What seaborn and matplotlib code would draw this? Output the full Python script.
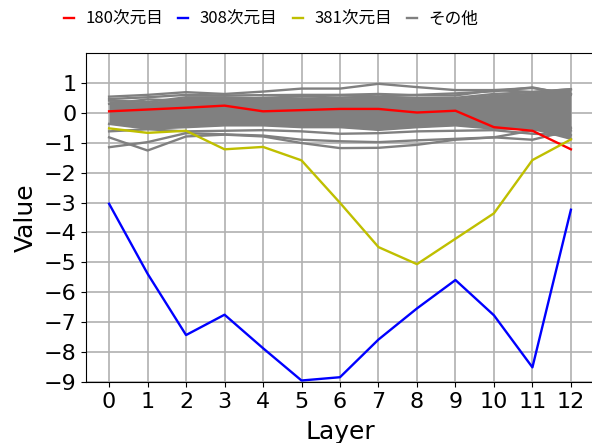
import numpy as np
import pandas as pd
import seaborn as sns
import matplotlib.pyplot as plt
from matplotlib.lines import Line2D

# 値は図から読み取り
layers = list(range(13))
dim_180 = [0.05, 0.11, 0.17, 0.24, 0.05, 0.09, 0.13, 0.13, 0.01, 0.07, -0.48, -0.60, -1.22]
dim_308 = [-3.04, -5.38, -7.43, -6.75, -7.87, -8.95, -8.84, -7.58, -6.54, -5.59, -6.77, -8.51, -3.24]
dim_381 = [-0.52, -0.67, -0.60, -1.22, -1.14, -1.59, -3.01, -4.49, -5.06, -4.21, -3.36, -1.58, -0.89]

# その他の次元：密集帯の上端と下端
band_top = [0.41, 0.36, 0.52, 0.52, 0.48, 0.48, 0.50, 0.53, 0.50, 0.50, 0.63, 0.69, 0.79]
band_bottom = [-0.37, -0.53, -0.48, -0.42, -0.42, -0.48, -0.48, -0.57, -0.48, -0.42, -0.53, -0.53, -0.87]
# その他の次元：帯から外れた線
other_u1 = [0.54, 0.60, 0.69, 0.63, 0.71, 0.81, 0.81, 0.97, 0.86, 0.76, 0.76, 0.83, 0.63]
other_u2 = [0.46, 0.52, 0.60, 0.58, 0.59, 0.60, 0.60, 0.63, 0.59, 0.58, 0.76, 0.70, 0.79]
other_u3 = [0.30, 0.45, 0.40, 0.45, 0.50, 0.55, 0.58, 0.55, 0.60, 0.65, 0.72, 0.85, 0.60]
other_l1 = [-1.15, -0.98, -0.68, -0.72, -0.76, -0.90, -0.95, -0.98, -0.92, -0.87, -0.82, -0.90, -0.59]
other_l2 = [-0.82, -1.26, -0.79, -0.73, -0.79, -1.01, -1.18, -1.17, -1.07, -0.90, -0.82, -0.59, -0.50]
other_l3 = [-0.62, -0.55, -0.62, -0.60, -0.58, -0.62, -0.70, -0.68, -0.62, -0.60, -0.58, -0.70, -0.75]

labels = ['180次元目', '308次元目', '381次元目', 'その他']
colors = ['r', 'b', 'y', 'gray']

plt.rcParams['font.family'] = ['DejaVu Sans', 'Noto Sans CJK JP']

# データ整形
main = pd.DataFrame({'Layer': layers, labels[0]: dim_180, labels[1]: dim_308, labels[2]: dim_381})
main = main.melt(id_vars='Layer', var_name='dim', value_name='Value')
others = [other_u1, other_u2, other_u3, other_l1, other_l2, other_l3, band_top, band_bottom]
other_df = pd.concat([pd.DataFrame({'Layer': layers, 'Value': v, 'unit': i}) for i, v in enumerate(others)],
                     ignore_index=True)

fig = plt.figure(figsize=(5.92, 4.43), dpi=100)
ax = fig.add_axes([86 / 592, 61 / 443, 508 / 592, 329 / 443])

ax.fill_between(layers, band_bottom, band_top, color='gray', lw=0, zorder=2)
sns.lineplot(data=other_df, x='Layer', y='Value', units='unit', estimator=None,
             color='gray', lw=1.7, legend=False, ax=ax, zorder=2)
sns.lineplot(data=main, x='Layer', y='Value', hue='dim', palette=colors[:3],
             lw=1.7, legend=False, ax=ax, zorder=3)

ax.set_xlim(-0.6, 12.6)
ax.set_ylim(-9, 2)
ax.set_xticks(layers)
ax.set_yticks(range(-9, 2))
ax.tick_params(labelsize=16)
ax.set_xlabel('Layer', fontsize=18, labelpad=6)
ax.set_ylabel('Value', fontsize=18)
ax.grid(True, color='#b0b0b0', lw=1.2)
ax.set_axisbelow(True)

handles = [Line2D([], [], color=c, lw=1.7) for c in colors]
fig.legend(handles, labels, loc='center', bbox_to_anchor=(271 / 592, 1 - 19 / 443), ncol=4,
           frameon=False, prop={'family': ['Noto Sans CJK JP'], 'size': 12},
           handlelength=0.6, handletextpad=0.7, columnspacing=0.9)

fig.savefig('out.png', dpi=100)
